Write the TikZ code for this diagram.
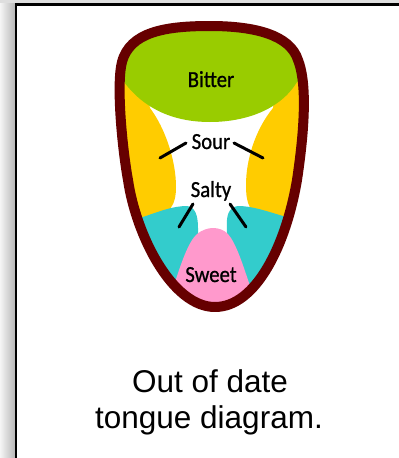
\documentclass[tikz,border=0pt]{standalone}
\usepackage{fontspec}
\newfontfamily\labelfont{Carlito}[FakeBold=0.9]
\newfontfamily\capfont{Liberation Sans}
\usetikzlibrary{calc}
\definecolor{bittergreen}{HTML}{99CC00}
\definecolor{souryellow}{HTML}{FFCC00}
\definecolor{saltycyan}{HTML}{33CCCC}
\definecolor{sweetpink}{HTML}{FF99CC}
\definecolor{tonguerim}{HTML}{660000}
\begin{document}
\begin{tikzpicture}[x=1pt,y=-1pt,
  zonelabel/.style={font=\labelfont\fontsize{23}{27}\selectfont,inner sep=0pt,anchor=base,xscale=0.9},
  captionline/.style={font=\capfont\fontsize{31.5}{36}\selectfont,inner sep=0pt,anchor=base},
  leader/.style={line width=3pt,black,line cap=round},
  rim/.style={line width=10pt,tonguerim,line join=round}]
\useasboundingbox (0,0) rectangle (399,458);
% page shadow and frame
\fill[white] (0,0) rectangle (399,458);
\shade[left color=white!96!black,right color=black!28] (0,0) rectangle (15,458);
\fill[black!13] (0,0) rectangle (399,3.4);
\draw[line width=2.4pt,black] (16,470) -- (16,4.6) -- (410,4.6);
% tongue outline (centre line of the rim)
\def\tonguepath{(210,26) .. controls (165,26) and (130,32) .. (122,62)
  .. controls (116,85) and (122.5,150) .. (128,180)
  .. controls (136,235) and (172,307) .. (215,307)
  .. controls (256,307) and (286,245) .. (297,180)
  .. controls (306,120) and (306,80) .. (298,60)
  .. controls (290,35) and (255,26) .. (210,26) -- cycle}
\begin{scope}
  \clip \tonguepath;
  \fill[white] (90,0) rectangle (330,330);
  % sour zones
  \fill[souryellow] (90,60) -- (140,60) -- (150,108)
    .. controls (165,128) and (176,160) .. (176,187)
    .. controls (176,205) and (170,213) .. (155,218) -- (90,222) -- cycle;
  \fill[souryellow] (330,60) -- (280,60) -- (273,108)
    .. controls (255,130) and (246,160) .. (246,185)
    .. controls (246,205) and (250,213) .. (265,218) -- (330,222) -- cycle;
  % salty zones
  \fill[saltycyan] (90,222) -- (140,218)
    .. controls (158,212) and (172,206) .. (187,206)
    .. controls (195,207) and (198,215) .. (198,228) -- (200,330) -- (90,330) -- cycle;
  \fill[saltycyan] (330,222) -- (283,216)
    .. controls (266,211) and (252,206) .. (238,206)
    .. controls (229,207) and (226,215) .. (227,228) -- (222,330) -- (330,330) -- cycle;
  % sweet zone
  \fill[sweetpink] (168,330) -- (173,288)
    .. controls (181,264) and (188,242) .. (197,234)
    .. controls (202,230) and (208,228) .. (213,228)
    .. controls (219,228) and (224,230) .. (228,234)
    .. controls (236,243) and (243,265) .. (250,286) -- (252,330) -- cycle;
  % bitter zone
  \fill[bittergreen] (90,0) -- (90,80) -- (124,82)
    .. controls (145,110) and (175,122) .. (210,122)
    .. controls (245,122) and (280,110) .. (297,82) -- (330,80) -- (330,0) -- cycle;
\end{scope}
\draw[rim] \tonguepath;
% zone labels
\node[zonelabel] (bitter) at (211,87) {Bitter};
\node[zonelabel] (sour) at (211,149) {Sour};
\node[zonelabel] (salty) at (211,197) {Salty};
\node[zonelabel] (sweet) at (211,282) {Sweet};
% leader lines
\coordinate (sourL1) at (186,143);
\coordinate (sourL2) at (160,158);
\coordinate (sourR1) at (234,143);
\coordinate (sourR2) at (263,158);
\coordinate (saltyL1) at (193,204);
\coordinate (saltyL2) at (179,227);
\coordinate (saltyR1) at (230,204);
\coordinate (saltyR2) at (246,227);
\draw[leader] (sourL1) -- (sourL2);
\draw[leader] (sourR1) -- (sourR2);
\draw[leader] (saltyL1) -- (saltyL2);
\draw[leader] (saltyR1) -- (saltyR2);
% caption
\node[captionline] (cap1) at (210,392) {Out of date};
\node[captionline] (cap2) at (209,428) {tongue diagram.};
\end{tikzpicture}
\end{document}
